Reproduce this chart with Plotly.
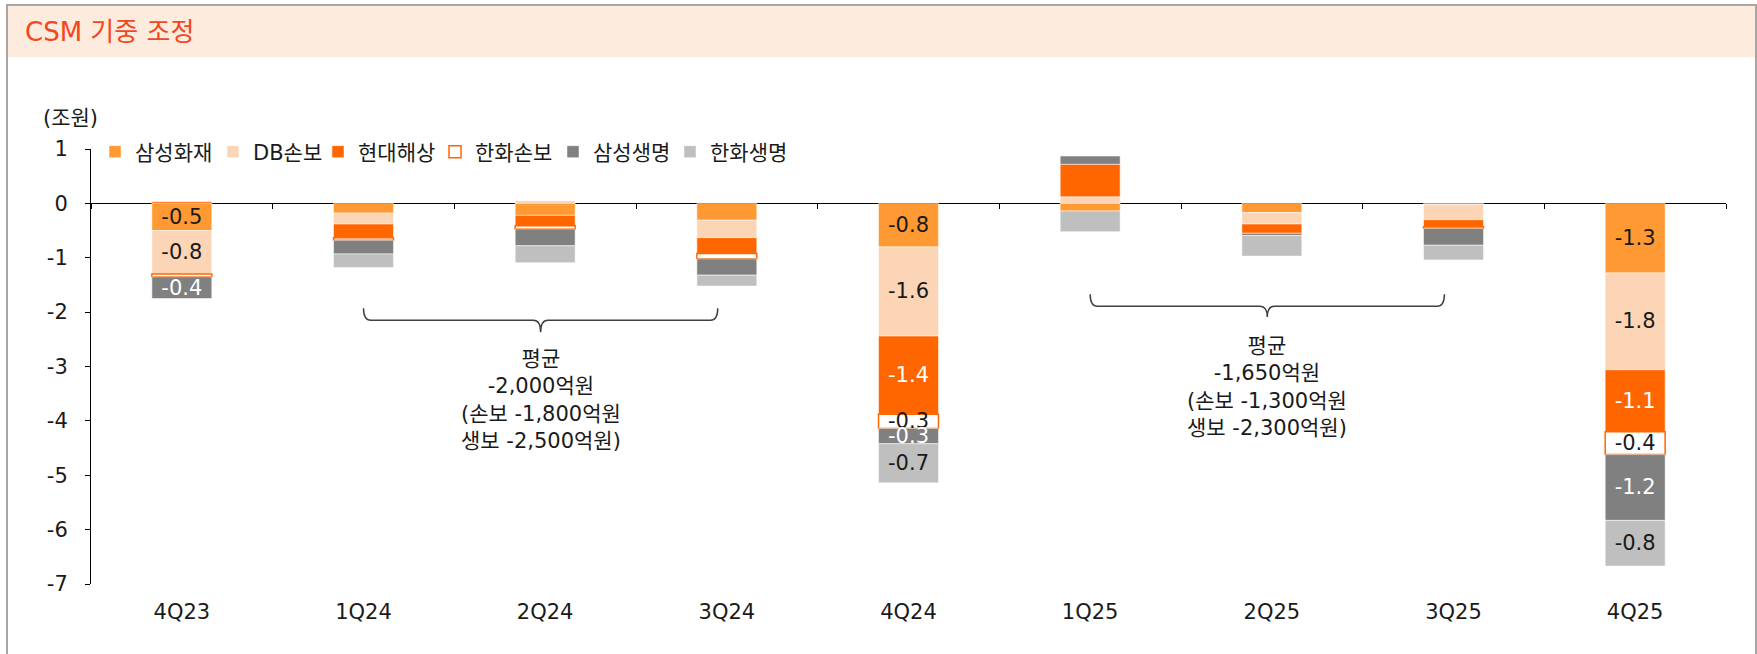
import plotly.graph_objects as go

# ---------------- data ----------------
categories = ["4Q23", "1Q24", "2Q24", "3Q24", "4Q24", "1Q25", "2Q25", "3Q25", "4Q25"]
samsung_fire = [-0.50, -0.18, -0.22, -0.31, -0.80, -0.14, -0.17, -0.02, -1.28]
db_insurance = [-0.80, -0.20, 0.05, -0.32, -1.64, 0.12, -0.21, -0.28, -1.78]
hyundai_marine = [0.03, -0.25, -0.19, -0.29, -1.44, 0.60, -0.17, -0.13, -1.14]
hanwha_gi = [-0.05, -0.05, -0.06, -0.10, -0.26, 0.00, 0.00, -0.03, -0.42]
samsung_life = [-0.40, -0.25, -0.31, -0.30, -0.28, 0.15, -0.04, -0.31, -1.21]
hanwha_life = [0.00, -0.25, -0.31, -0.20, -0.72, -0.38, -0.38, -0.27, -0.84]

series_names = ["삼성화재", "DB손보", "현대해상", "한화손보", "삼성생명", "한화생명"]
labelled_categories = ["4Q23", "4Q24", "4Q25"]

y_tick_values = [1, 0, -1, -2, -3, -4, -5, -6, -7]
y_tick_labels = ["1", "0", "-1", "-2", "-3", "-4", "-5", "-6", "-7"]

# bracket groups: (first category, last category, y of hook ends, y of line, y of tip)
bracket1 = ("1Q24", "3Q24", -1.93, -2.15, -2.37)
bracket2 = ("1Q25", "3Q25", -1.67, -1.89, -2.09)
note1_text = "평균<br>-2,000억원<br>(손보 -1,800억원<br>생보 -2,500억원)"
note2_text = "평균<br>-1,650억원<br>(손보 -1,300억원<br>생보 -2,300억원)"
note1_y = -3.62
note2_y = -3.37

# ---------------- styling ----------------
FONT = "DejaVu Sans, Noto Sans CJK KR"
FS = 21
fill_colors = ["#FF9933", "#FBD5B5", "#FF6600", "#FFFFFF", "#808080", "#BFBFBF"]
line_colors = ["#FFFFFF", "#FFFFFF", "#FFFFFF", "#FF6600", "#FFFFFF", "#FFFFFF"]
line_widths = [0.5, 0.5, 0.5, 1.5, 0.5, 0.5]
text_colors = ["#1a1a1a", "#1a1a1a", "#FFFFFF", "#1a1a1a", "#FFFFFF", "#1a1a1a"]
legend_widths = [73, 60, 72, 73, 72, 72]

all_values = [samsung_fire, db_insurance, hyundai_marine, hanwha_gi, samsung_life, hanwha_life]
xpos = list(range(len(categories)))

fig = go.Figure()
for name, vals, fc, lc, lw, tc, lgw in zip(series_names, all_values, fill_colors,
                                           line_colors, line_widths, text_colors,
                                           legend_widths):
    texts = [f"{v:.1f}" if (c in labelled_categories and abs(v) >= 0.2) else ""
             for c, v in zip(categories, vals)]
    yvals = [v if v != 0 else None for v in vals]
    fig.add_trace(go.Bar(
        name=name, x=xpos, y=yvals, width=0.33,
        marker=dict(color=fc, line=dict(color=lc, width=lw)),
        text=texts, textposition="inside", insidetextanchor="middle",
        constraintext="none",
        textfont=dict(family=FONT, size=FS, color=tc),
        hoverinfo="skip", legendwidth=lgw,
    ))

# invisible trace for the zero-line axis
fig.add_trace(go.Scatter(x=[None], y=[None], xaxis="x2", showlegend=False,
                         hoverinfo="skip"))

shapes = []
annotations = []

def brace(b):
    x0 = categories.index(b[0])
    x1 = categories.index(b[1]) - 0.05
    ytop, yline, ytip = b[2], b[3], b[4]
    xm = (x0 + x1) / 2
    dx = 0.04
    path = (f"M {x0},{ytop} Q {x0},{yline} {x0+dx},{yline} "
            f"L {xm-dx},{yline} Q {xm},{yline} {xm},{ytip} "
            f"Q {xm},{yline} {xm+dx},{yline} "
            f"L {x1-dx},{yline} Q {x1},{yline} {x1},{ytop}")
    return dict(type="path", path=path, xref="x", yref="y",
                line=dict(color="#404040", width=1.5)), xm

s1, m1 = brace(bracket1)
s2, m2 = brace(bracket2)
shapes += [s1, s2]

for txt, xm, yy in [(note1_text, m1, note1_y), (note2_text, m2, note2_y)]:
    annotations.append(dict(text=txt, x=xm, y=yy, xref="x", yref="y",
                            showarrow=False, align="center",
                            font=dict(family=FONT, size=FS, color="#1a1a1a")))

# header band + frame (paper coords relative to plot area)
L, R, T, B = 91, 31, 149, 70
W, H = 1757, 654
pw, ph = W - L - R, H - T - B

def px(x):
    return (x - L) / pw

def py(y):
    return (H - B - y) / ph

shapes.append(dict(type="rect", xref="paper", yref="paper",
                   x0=px(7), x1=px(1756), y0=py(57), y1=py(5),
                   fillcolor="#FDEBDD", line=dict(width=0), layer="below"))
shapes.append(dict(type="rect", xref="paper", yref="paper",
                   x0=px(7), x1=px(1756), y0=py(670), y1=py(5),
                   fillcolor="rgba(0,0,0,0)", line=dict(color="#A6A6A6", width=2)))

annotations.append(dict(text="CSM 기중 조정", xref="paper", yref="paper",
                        x=px(23), y=py(32), xanchor="left", yanchor="middle",
                        showarrow=False,
                        font=dict(family=FONT, size=26, color="#F4461E")))
annotations.append(dict(text="(조원)", xref="paper", yref="paper",
                        x=px(41), y=py(118), xanchor="left", yanchor="middle",
                        showarrow=False,
                        font=dict(family=FONT, size=FS, color="#1a1a1a")))

fig.update_layout(
    width=W, height=H,
    margin=dict(l=L, r=R, t=T, b=B, pad=0),
    barmode="relative",
    plot_bgcolor="white", paper_bgcolor="white",
    font=dict(family=FONT, size=FS, color="#1a1a1a"),
    showlegend=True,
    legend=dict(orientation="h", x=px(95), y=py(152), xanchor="left", yanchor="middle",
                font=dict(family=FONT, size=FS, color="#1a1a1a"),
                itemwidth=30, traceorder="normal", bgcolor="rgba(0,0,0,0)"),
    xaxis=dict(type="linear", range=[-0.5, len(categories) - 0.5],
               tickvals=xpos, ticktext=categories, showline=False, ticks="",
               showgrid=False, zeroline=False, ticklabelstandoff=13,
               tickfont=dict(family=FONT, size=FS, color="#1a1a1a")),
    xaxis2=dict(type="linear", overlaying="x", anchor="free", position=7 / 8,
                range=[-0.5, len(categories) - 0.5],
                tickvals=[i - 0.5 for i in range(len(categories) + 1)],
                showticklabels=False, ticks="outside", ticklen=5, tickcolor="#000",
                showline=True, linecolor="#000", linewidth=1.2, showgrid=False,
                zeroline=False, layer="below traces"),
    yaxis=dict(range=[-7, 1], tickvals=y_tick_values, ticktext=y_tick_labels,
               showline=True, linecolor="#000", linewidth=1,
               ticks="outside", ticklen=5, tickcolor="#000", showgrid=False,
               zeroline=False, ticklabelstandoff=13,
               tickfont=dict(family=FONT, size=FS, color="#1a1a1a")),
    shapes=shapes, annotations=annotations,
)

fig.write_html("out.html", config={"displayModeBar": False},
               post_script="document.body.style.margin='0px';document.body.style.overflow='hidden';")
